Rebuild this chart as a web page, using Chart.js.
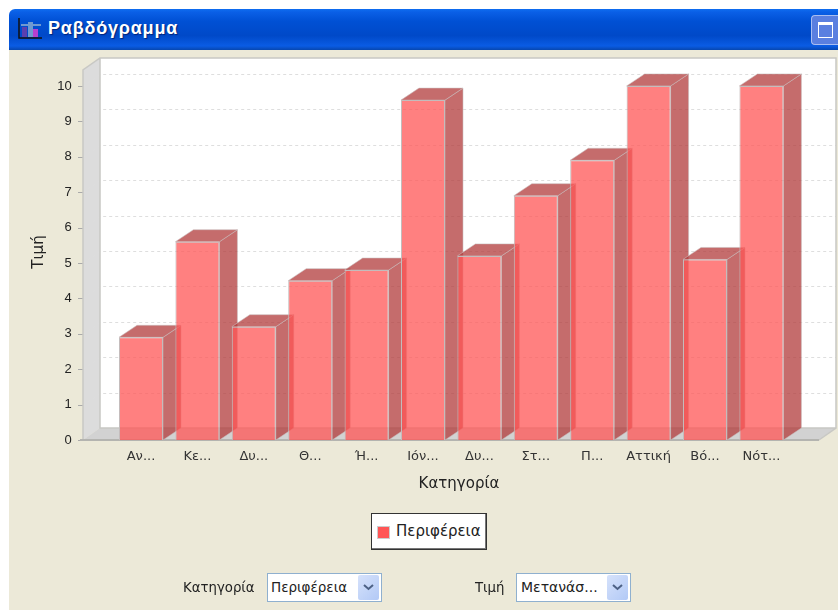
<!DOCTYPE html>
<html lang="el">
<head>
<meta charset="utf-8">
<title>Ραβδόγραμμα</title>
<script src="https://cdn.jsdelivr.net/npm/chart.js@4"></script>
<style>
  html, body { margin: 0; padding: 0; background: #fff; }
  body { width: 838px; height: 610px; position: relative; overflow: hidden; font-family: "DejaVu Sans", sans-serif; }
  .window { position: absolute; left: 9px; top: 50px; right: 0; bottom: 0; background: #ece9d8; }
  .titlebar {
    position: absolute; left: 9px; top: 9px; right: 0; height: 41px; border-top-left-radius: 6px;
    background: linear-gradient(#0f6df0 0, #0a5fe6 8%, #0050d4 30%, #0049c8 65%, #0a5ce4 90%, #0747b0 100%);
  }
  .titlebar .name {
    position: absolute; left: 39px; top: 9px; color: #fff; font: bold 18px "Liberation Sans", sans-serif;
    letter-spacing: 0.8px; text-shadow: 1px 1px 1px #00247a;
  }
  .titlebar svg { position: absolute; left: 9px; top: 9px; }
  .winbtn {
    position: absolute; left: 802px; top: 6px; width: 27px; height: 30px; box-sizing: border-box;
    border: 1px solid #a9bdf0; border-right: 0; border-radius: 4px 0 0 4px; background: #5a7fe0;
  }
  .winbtn i {
    position: absolute; left: 6px; top: 6px; width: 15px; height: 16px; box-sizing: border-box;
    border: 1px solid #fff; border-top-width: 3px;
  }
  #chart { position: absolute; left: 0; top: 0; }
  #legend {
    position: absolute; left: 371px; top: 513px; width: 116px; height: 37px; box-sizing: border-box;
    background: #fff; border: 1px solid #333; box-shadow: inset -1px -1px 0 #777;
    font-size: 15px; color: #222; line-height: 35px; padding-left: 24px; white-space: nowrap;
  }
  #legend b { position: absolute; left: 6px; top: 13px; width: 11px; height: 11px; background: #ff5555; outline: 1px solid #ccc; }
  .lbl { position: absolute; top: 580px; font-size: 13.300px; color: #222; white-space: nowrap; }
  .combo {
    position: absolute; top: 573px; width: 115px; height: 29px; box-sizing: border-box; background: #fff;
    border: 1px solid #8fb0cf; font-size: 14px; color: #222; line-height: 27px; padding-left: 4px; white-space: nowrap;
  }
  .combo span {
    position: absolute; right: 2px; top: 1px; width: 21px; height: 25px;
    border-radius: 2px; background: linear-gradient(135deg, #d6e2fb, #b2c9f6);
  }
  .combo svg { position: absolute; left: 5px; top: 9px; }
</style>
</head>
<body>
<div class="window"></div>
<div class="titlebar">
  <svg width="24" height="22" viewBox="0 0 24 22">
    <path d="M1 0V20H24" fill="none" stroke="#111" stroke-width="1.5"/>
    <rect x="3" y="6" width="20" height="2" fill="#6f9ad0"/>
    <rect x="4" y="9" width="5" height="10" fill="#5a3fb0"/>
    <rect x="10" y="4" width="5" height="15" fill="#6f9ad0"/>
    <rect x="15" y="11" width="5" height="8" fill="#b83fd0"/>
  </svg>
  <div class="name">Ραβδόγραμμα</div>
  <div class="winbtn"><i></i></div>
</div>
<canvas id="chart" width="838" height="610"></canvas>
<div id="legend"><b></b><span id="legendText"></span></div>
<div class="lbl" style="left:183px">Κατηγορία</div>
<div class="combo" style="left:267px;font-size:13.500px;padding-left:3px">Περιφέρεια<span><svg width="11" height="7"><path d="M1 1L5.500 5L10 1" fill="none" stroke="#4d6185" stroke-width="2"/></svg></span></div>
<div class="lbl" style="left:475px">Τιμή</div>
<div class="combo" style="left:516px">Μετανάσ...<span><svg width="11" height="7"><path d="M1 1L5.500 5L10 1" fill="none" stroke="#4d6185" stroke-width="2"/></svg></span></div>
<script>
const categories = ["Αν...", "Κε...", "Δυ...", "Θ...", "Ή...", "Ιόν...", "Δυ...", "Στ...", "Π...", "Αττική", "Βό...", "Νότ..."];
const values = [2.9, 5.6, 3.2, 4.5, 4.8, 9.6, 5.2, 6.9, 7.9, 10, 5.1, 10];
const seriesName = "Περιφέρεια";
const xTitle = "Κατηγορία";
const yTitle = "Τιμή";

const DEPTH_X = 17;
const DEPTH_Y = 12;
const WALL_LEFT = 83;
const WALL_RIGHT = 819;

function poly(ctx, pts, fill, stroke) {
  ctx.beginPath();
  pts.forEach((p, i) => (i ? ctx.lineTo(p[0], p[1]) : ctx.moveTo(p[0], p[1])));
  ctx.closePath();
  if (fill) { ctx.fillStyle = fill; ctx.fill(); }
  if (stroke) { ctx.strokeStyle = stroke; ctx.lineWidth = 1; ctx.stroke(); }
}

// JFreeChart style box: walls, floor and depth faces around the flat bars
const box3d = {
  id: "box3d",
  beforeDatasetsDraw(chart) {
    const { ctx, chartArea: area, scales } = chart;
    const y = scales.y;
    const base = area.bottom;
    const top = area.top;
    ctx.save();
    poly(ctx, [[WALL_LEFT + DEPTH_X, top - DEPTH_Y], [WALL_RIGHT + DEPTH_X, top - DEPTH_Y], [WALL_RIGHT + DEPTH_X, base - DEPTH_Y], [WALL_LEFT + DEPTH_X, base - DEPTH_Y]], "#ffffff");
    poly(ctx, [[WALL_LEFT, top], [WALL_LEFT + DEPTH_X, top - DEPTH_Y], [WALL_LEFT + DEPTH_X, base - DEPTH_Y], [WALL_LEFT, base]], "#dcdcdc");
    poly(ctx, [[WALL_LEFT, base], [WALL_LEFT + DEPTH_X, base - DEPTH_Y], [WALL_RIGHT + DEPTH_X, base - DEPTH_Y], [WALL_RIGHT, base]], "#d2d2d2");

    ctx.lineWidth = 1;
    y.ticks.forEach((t) => {
      const py = Math.round(y.getPixelForValue(t.value)) + 0.5;
      if (t.value > 0) {
        ctx.setLineDash([3, 3]);
        ctx.strokeStyle = "#dedede";
        ctx.beginPath();
        ctx.moveTo(WALL_LEFT, py);
        ctx.lineTo(WALL_LEFT + DEPTH_X, py - DEPTH_Y);
        ctx.lineTo(WALL_RIGHT + DEPTH_X, py - DEPTH_Y);
        ctx.stroke();
      }
      ctx.setLineDash([]);
      ctx.strokeStyle = "#aaaaaa";
      ctx.beginPath();
      ctx.moveTo(WALL_LEFT - 5, py);
      ctx.lineTo(WALL_LEFT, py);
      ctx.stroke();
    });

    // frame of the walls
    ctx.strokeStyle = "#c8c8c4";
    ctx.lineWidth = 1.5;
    ctx.beginPath();
    ctx.moveTo(WALL_LEFT, base);
    ctx.lineTo(WALL_LEFT, top);
    ctx.lineTo(WALL_LEFT + DEPTH_X, top - DEPTH_Y);
    ctx.lineTo(WALL_RIGHT + DEPTH_X, top - DEPTH_Y);
    ctx.lineTo(WALL_RIGHT + DEPTH_X, base - DEPTH_Y);
    ctx.lineTo(WALL_RIGHT, base);
    ctx.moveTo(WALL_LEFT + DEPTH_X, top - DEPTH_Y);
    ctx.lineTo(WALL_LEFT + DEPTH_X, base - DEPTH_Y);
    ctx.lineTo(WALL_RIGHT + DEPTH_X, base - DEPTH_Y);
    ctx.stroke();
    ctx.strokeStyle = "#b4b4b0";
    ctx.lineWidth = 2;
    ctx.beginPath();
    ctx.moveTo(WALL_LEFT - 3, base);
    ctx.lineTo(WALL_RIGHT, base);
    ctx.stroke();

    chart.getDatasetMeta(0).data.forEach((bar) => {
      const half = bar.width / 2;
      const x0 = bar.x - half;
      const x1 = bar.x + half;
      const dx = DEPTH_X + 1;
      const face = "rgba(178, 59, 59, 0.75)";
      const edge = "rgba(200, 190, 190, 0.55)";
      poly(ctx, [[x1, bar.y], [x1 + dx, bar.y - DEPTH_Y], [x1 + dx, base - DEPTH_Y], [x1, base]], face, edge);
      poly(ctx, [[x0, bar.y], [x0 + dx, bar.y - DEPTH_Y], [x1 + dx, bar.y - DEPTH_Y], [x1, bar.y]], face, edge);
    });
    ctx.restore();
  },
  afterDraw(chart) {
    const { ctx } = chart;
    ctx.save();
    ctx.fillStyle = "#222";
    ctx.font = '15px "DejaVu Sans", sans-serif';
    ctx.textAlign = "center";
    ctx.textBaseline = "middle";
    ctx.fillText(xTitle, 459, 484);
    ctx.translate(39, 252);
    ctx.rotate(-Math.PI / 2);
    ctx.fillText(yTitle, 0, 0);
    ctx.restore();
  },
};

new Chart(document.getElementById("chart"), {
  type: "bar",
  data: {
    labels: categories,
    datasets: [{
      label: seriesName,
      data: values,
      backgroundColor: "rgba(255, 85, 85, 0.75)",
      borderColor: "#c4bcbc",
      borderWidth: 1,
      barPercentage: 1,
      categoryPercentage: 0.78,
    }],
  },
  options: {
    responsive: false,
    animation: false,
    layout: { padding: { top: 70, right: 48.4, left: 0, bottom: 0 } },
    plugins: { legend: { display: false }, tooltip: { enabled: false } },
    scales: {
      x: {
        afterFit(scale) { scale.height = 170; },
        grid: { display: false, drawTicks: false },
        border: { display: false },
        ticks: { autoSkip: false, maxRotation: 0, padding: 9, color: "#333", font: { family: "DejaVu Sans", size: 13 } },
      },
      y: {
        min: 0,
        max: 10.45,
        afterFit(scale) { scale.width = 112.8; },
        grid: { display: false, drawTicks: false },
        border: { display: false },
        ticks: { stepSize: 1, includeBounds: false, padding: 41, color: "#222", font: { family: "Liberation Sans", size: 13 } },
      },
    },
  },
  plugins: [box3d],
});

document.getElementById("legendText").textContent = seriesName;
</script>
</body>
</html>
